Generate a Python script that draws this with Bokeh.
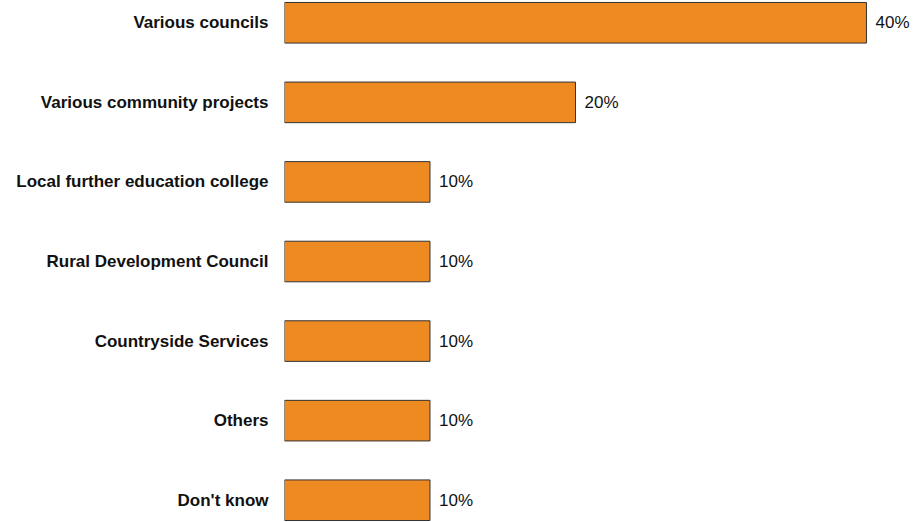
from bokeh.plotting import figure
from bokeh.models import FactorRange, Range1d, ColumnDataSource
from bokeh.embed import file_html
from bokeh.resources import INLINE
from bokeh.core.properties import value

categories = ["Various councils", "Various community projects", "Local further education college",
              "Rural Development Council", "Countryside Services", "Others", "Don't know"]
values = [40, 20, 10, 10, 10, 10, 10]
labels = ["40%", "20%", "10%", "10%", "10%", "10%", "10%"]

src = ColumnDataSource(dict(cat=categories, val=values, lab=labels))

yr = FactorRange(factors=list(reversed(categories)), range_padding=-0.22, range_padding_units="absolute")
p = figure(width=915, height=522, y_range=yr, x_range=Range1d(0, 43.37),
           output_backend="svg", toolbar_location=None,
           min_border_left=284, min_border_right=0, min_border_top=0, min_border_bottom=0)

p.hbar(y="cat", right="val", left=0, height=0.51, source=src,
       fill_color="#EE8A22", line_color="#333333", line_width=1)
p.text(x="val", y="cat", text="lab", source=src, x_offset=9, text_baseline="middle",
       text_align="left", text_font=value("Liberation Sans"), text_font_size="17px", text_color="#111111")

p.xaxis.visible = False
p.xgrid.visible = False
p.ygrid.visible = False
p.outline_line_color = None
ax = p.yaxis[0]
ax.axis_line_color = None
ax.major_tick_line_color = None
ax.minor_tick_line_color = None
ax.major_tick_out = 0
ax.major_label_standoff = 16
ax.major_label_text_font = "Liberation Sans"
ax.major_label_text_font_style = "bold"
ax.major_label_text_font_size = "17px"
ax.major_label_text_color = "#111111"

open("out.html", "w").write(file_html(p, INLINE))
